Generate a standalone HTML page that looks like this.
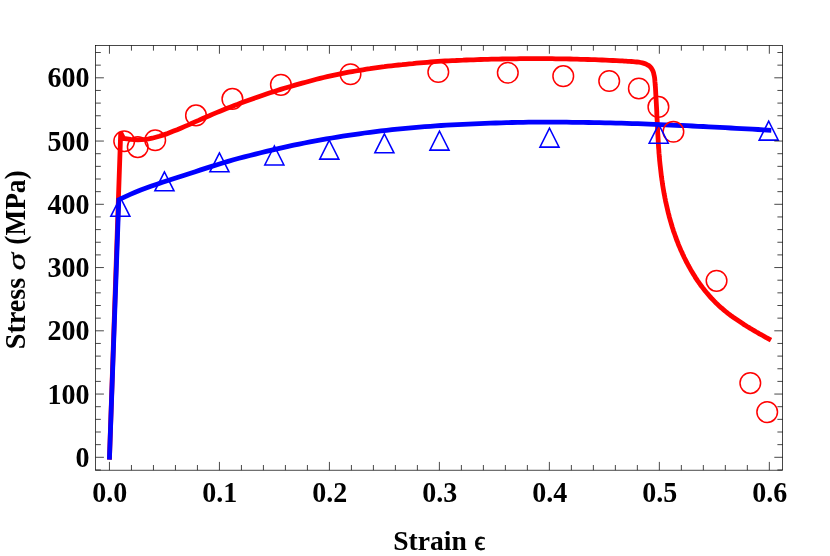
<!DOCTYPE html>
<html><head><meta charset="utf-8"><title>Stress-strain</title>
<style>
html,body{margin:0;padding:0;background:#fff;}
body{width:830px;height:556px;overflow:hidden;}
svg{display:block;will-change:transform;opacity:0.999;}
text{font-family:"Liberation Serif",serif;font-weight:bold;font-size:28px;fill:#000;}
</style></head><body>
<svg width="830" height="556" viewBox="0 0 830 556">
<rect width="830" height="556" fill="#fff"/>
<path d="M109.5 457.3 L120.7 132.5 L122.8 137.0 L123.6 138.5 L127.2 138.9 L130.7 139.3 L134.3 139.6 L137.9 139.8 L141.5 139.7 L145.0 139.3 L148.6 138.8 L152.2 138.2 L155.7 137.3 L159.3 136.3 L162.9 135.1 L166.5 133.9 L170.0 132.5 L173.6 131.1 L177.2 129.7 L180.7 128.2 L184.3 126.6 L187.9 125.1 L191.5 123.5 L195.0 121.9 L198.6 120.4 L202.2 118.8 L205.7 117.2 L209.3 115.7 L212.9 114.1 L216.5 112.6 L220.0 111.2 L223.6 109.7 L227.2 108.3 L230.7 106.9 L234.3 105.5 L237.9 104.2 L241.5 102.8 L245.0 101.5 L248.6 100.2 L252.2 98.9 L255.7 97.7 L259.3 96.4 L262.9 95.2 L266.4 94.0 L270.0 92.8 L273.6 91.7 L277.2 90.5 L280.7 89.4 L284.3 88.3 L287.9 87.2 L291.4 86.2 L295.0 85.1 L298.6 84.1 L302.2 83.1 L305.7 82.2 L309.3 81.2 L312.9 80.2 L316.4 79.3 L320.0 78.4 L323.6 77.5 L327.2 76.7 L330.7 75.9 L334.3 75.1 L337.9 74.3 L341.4 73.6 L345.0 72.9 L348.6 72.2 L352.2 71.6 L355.7 71.0 L359.3 70.4 L362.9 69.8 L366.4 69.2 L370.0 68.7 L373.6 68.1 L377.2 67.6 L380.7 67.1 L384.3 66.7 L387.9 66.2 L391.4 65.8 L395.0 65.4 L398.6 65.0 L402.2 64.7 L405.7 64.3 L409.3 63.9 L412.9 63.6 L416.4 63.2 L420.0 62.9 L423.6 62.6 L427.2 62.3 L430.7 62.0 L434.3 61.7 L437.9 61.4 L441.4 61.2 L445.0 61.0 L448.6 60.8 L452.2 60.6 L455.7 60.5 L459.3 60.3 L462.9 60.2 L466.4 60.0 L470.0 59.9 L473.6 59.8 L477.2 59.6 L480.7 59.5 L484.3 59.4 L487.9 59.3 L491.4 59.2 L495.0 59.2 L498.6 59.1 L502.1 59.0 L505.7 58.9 L509.3 58.9 L512.9 58.8 L516.4 58.8 L520.0 58.7 L523.6 58.7 L527.1 58.7 L530.7 58.7 L534.3 58.7 L537.9 58.7 L541.4 58.7 L545.0 58.7 L548.6 58.7 L552.1 58.7 L555.7 58.8 L559.3 58.8 L562.9 58.9 L566.4 58.9 L570.0 59.0 L573.6 59.1 L577.1 59.2 L580.7 59.3 L584.3 59.4 L587.9 59.5 L591.4 59.6 L595.0 59.7 L598.6 59.9 L602.1 60.0 L605.7 60.2 L609.3 60.4 L612.9 60.5 L616.4 60.7 L620.0 60.9 L620.8 60.8 L622.5 60.9 L624.2 61.1 L626.0 61.2 L627.8 61.3 L629.6 61.4 L631.4 61.5 L633.2 61.6 L635.1 61.8 L636.9 62.0 L638.8 62.2 L640.6 62.5 L642.4 62.9 L644.1 63.4 L645.8 64.0 L647.3 64.8 L648.8 65.6 L650.1 66.7 L651.2 68.0 L652.1 69.4 L652.9 71.0 L653.5 72.6 L653.9 74.4 L654.3 76.1 L654.6 77.9 L654.8 79.7 L654.9 81.5 L655.1 83.3 L655.2 85.1 L655.4 86.9 L655.5 88.7 L655.6 90.5 L655.7 92.3 L655.8 94.1 L655.9 96.0 L656.0 97.8 L656.1 99.6 L656.2 101.4 L656.3 103.1 L656.4 104.9 L656.5 106.7 L656.6 108.5 L656.7 110.3 L656.8 112.1 L656.8 113.9 L656.9 115.7 L657.0 117.5 L657.1 119.3 L657.2 121.1 L657.3 122.9 L657.3 124.7 L657.4 126.4 L657.5 128.2 L657.6 130.0 L657.7 131.8 L657.8 133.6 L657.9 135.4 L658.0 137.2 L658.1 138.9 L658.2 140.7 L658.3 142.5 L658.4 144.3 L658.5 146.1 L658.6 147.9 L658.8 149.6 L658.9 151.4 L659.0 153.2 L659.2 155.0 L659.3 156.8 L659.5 158.6 L659.6 160.3 L659.8 162.1 L660.0 163.9 L660.2 165.7 L660.4 167.5 L660.6 169.3 L660.8 171.0 L661.0 172.8 L661.2 174.6 L661.4 176.4 L661.7 178.2 L661.9 179.9 L662.2 181.7 L662.4 183.5 L662.7 185.3 L663.0 187.1 L663.3 188.8 L663.6 190.6 L663.9 192.4 L664.2 194.1 L664.6 195.9 L664.9 197.7 L665.3 199.4 L665.6 201.2 L666.0 203.0 L666.4 204.7 L666.8 206.5 L667.2 208.2 L667.6 210.0 L668.0 211.7 L668.4 213.4 L668.9 215.2 L669.3 216.9 L669.8 218.6 L670.3 220.4 L670.8 222.1 L671.3 223.8 L671.8 225.5 L672.3 227.2 L672.9 228.9 L673.4 230.7 L674.0 232.4 L674.6 234.0 L675.2 235.7 L675.8 237.4 L676.4 239.1 L677.0 240.8 L677.7 242.4 L678.3 244.1 L679.0 245.8 L679.7 247.4 L680.4 249.1 L681.1 250.7 L681.9 252.3 L682.6 254.0 L683.4 255.6 L684.1 257.2 L684.9 258.8 L685.7 260.4 L686.5 262.0 L687.4 263.6 L688.2 265.2 L689.1 266.8 L690.0 268.3 L690.8 269.9 L691.8 271.5 L692.7 273.0 L693.6 274.5 L694.6 276.1 L695.5 277.6 L696.5 279.1 L697.5 280.6 L698.6 282.1 L699.6 283.5 L700.6 285.0 L701.7 286.4 L702.8 287.9 L703.9 289.3 L705.0 290.7 L706.1 292.1 L707.3 293.5 L708.5 294.8 L709.6 296.2 L710.8 297.5 L712.0 298.8 L713.3 300.1 L714.5 301.4 L715.8 302.7 L717.1 303.9 L718.4 305.2 L719.7 306.4 L721.0 307.6 L722.4 308.7 L723.7 309.9 L725.1 311.0 L726.5 312.2 L727.9 313.3 L729.3 314.4 L730.7 315.5 L732.2 316.5 L733.6 317.6 L735.1 318.6 L736.6 319.6 L738.1 320.6 L739.6 321.6 L741.1 322.6 L742.6 323.6 L744.1 324.6 L745.6 325.5 L747.1 326.5 L748.7 327.4 L750.2 328.3 L751.8 329.2 L753.3 330.2 L754.9 331.1 L756.4 332.0 L758.0 332.9 L759.5 333.8 L761.1 334.6 L762.7 335.5 L764.2 336.4 L765.8 337.3 L767.3 338.1 L768.9 339.0" fill="none" stroke="#f00" stroke-width="4.8" stroke-linecap="square" stroke-linejoin="miter" stroke-miterlimit="2"/>
<path d="M109.5 457.3 L118.8 199.7 L124.3 197.1 L129.7 194.6 L135.2 192.3 L140.7 190.1 L146.1 188.1 L151.6 186.1 L157.0 184.2 L162.5 182.3 L168.0 180.5 L173.4 178.8 L178.9 177.0 L184.4 175.2 L189.8 173.5 L195.3 171.7 L200.7 169.9 L206.2 168.1 L211.7 166.4 L217.1 164.7 L222.6 163.0 L228.1 161.4 L233.5 159.8 L239.0 158.3 L244.4 156.9 L249.9 155.5 L255.4 154.1 L260.8 152.7 L266.3 151.4 L271.8 150.1 L277.2 148.8 L282.7 147.6 L288.2 146.3 L293.6 145.2 L299.1 144.1 L304.5 143.0 L310.0 141.9 L315.5 140.9 L320.9 139.9 L326.4 138.9 L331.9 138.0 L337.3 137.1 L342.8 136.2 L348.2 135.4 L353.7 134.6 L359.2 133.8 L364.6 133.0 L370.1 132.3 L375.6 131.6 L381.0 130.9 L386.5 130.3 L392.0 129.7 L397.4 129.1 L402.9 128.6 L408.3 128.1 L413.8 127.6 L419.3 127.1 L424.7 126.7 L430.2 126.3 L435.7 125.9 L441.1 125.5 L446.6 125.2 L452.0 124.9 L457.5 124.6 L463.0 124.3 L468.4 124.1 L473.9 123.8 L479.4 123.6 L484.8 123.4 L490.3 123.2 L495.7 123.0 L501.2 122.8 L506.7 122.6 L512.1 122.5 L517.6 122.4 L523.1 122.3 L528.5 122.2 L534.0 122.2 L539.5 122.2 L544.9 122.1 L550.4 122.1 L555.8 122.1 L561.3 122.2 L566.8 122.2 L572.2 122.3 L577.7 122.3 L583.2 122.4 L588.6 122.5 L594.1 122.6 L599.5 122.7 L605.0 122.8 L610.5 122.9 L615.9 123.1 L621.4 123.2 L626.9 123.4 L632.3 123.6 L637.8 123.7 L643.3 123.9 L648.7 124.1 L654.2 124.3 L659.6 124.6 L665.1 124.8 L670.6 125.0 L676.0 125.3 L681.5 125.5 L687.0 125.7 L692.4 126.0 L697.9 126.3 L703.3 126.5 L708.8 126.8 L714.3 127.1 L719.7 127.4 L725.2 127.7 L730.7 128.0 L736.1 128.3 L741.6 128.6 L747.0 128.9 L752.5 129.2 L758.0 129.5 L763.4 129.9 L768.9 130.2" fill="none" stroke="#00f" stroke-width="4.8" stroke-linecap="square" stroke-linejoin="miter"/>
<g fill="none" stroke="#f00" stroke-width="1.5"><circle cx="124.20" cy="141.20" r="10.30"/><circle cx="137.75" cy="147.10" r="10.30"/><circle cx="155.20" cy="140.30" r="10.30"/><circle cx="196.00" cy="115.40" r="10.30"/><circle cx="232.40" cy="98.90" r="10.30"/><circle cx="280.90" cy="84.85" r="10.30"/><circle cx="350.50" cy="74.30" r="10.30"/><circle cx="438.30" cy="72.00" r="10.30"/><circle cx="507.80" cy="72.80" r="10.30"/><circle cx="563.25" cy="76.15" r="10.30"/><circle cx="609.20" cy="81.00" r="10.30"/><circle cx="638.85" cy="88.50" r="10.30"/><circle cx="658.40" cy="106.90" r="10.30"/><circle cx="673.40" cy="131.70" r="10.30"/><circle cx="716.55" cy="280.85" r="10.30"/><circle cx="750.30" cy="383.10" r="10.30"/><circle cx="767.20" cy="412.10" r="10.30"/></g>
<path d="M120.35 197.42L110.80 216.32L129.90 216.32ZM164.45 171.92L154.90 190.82L174.00 190.82ZM219.45 152.92L209.90 171.82L229.00 171.82ZM274.35 146.02L264.80 164.92L283.90 164.92ZM329.30 140.22L319.75 159.12L338.85 159.12ZM384.40 133.92L374.85 152.82L393.95 152.82ZM439.50 131.22L429.95 150.12L449.05 150.12ZM549.50 128.22L539.95 147.12L559.05 147.12ZM658.70 124.32L649.15 143.22L668.25 143.22ZM768.70 121.22L759.15 140.12L778.25 140.12Z" fill="none" stroke="#00f" stroke-width="1.55" stroke-linejoin="miter" stroke-miterlimit="10"/>
<path d="M109.45 470.20v-8.30M109.45 45.45v8.30M131.45 470.20v-5.20M131.45 45.45v5.20M153.44 470.20v-5.20M153.44 45.45v5.20M175.44 470.20v-5.20M175.44 45.45v5.20M197.43 470.20v-5.20M197.43 45.45v5.20M219.43 470.20v-8.30M219.43 45.45v8.30M241.43 470.20v-5.20M241.43 45.45v5.20M263.42 470.20v-5.20M263.42 45.45v5.20M285.42 470.20v-5.20M285.42 45.45v5.20M307.41 470.20v-5.20M307.41 45.45v5.20M329.41 470.20v-8.30M329.41 45.45v8.30M351.41 470.20v-5.20M351.41 45.45v5.20M373.40 470.20v-5.20M373.40 45.45v5.20M395.40 470.20v-5.20M395.40 45.45v5.20M417.39 470.20v-5.20M417.39 45.45v5.20M439.39 470.20v-8.30M439.39 45.45v8.30M461.39 470.20v-5.20M461.39 45.45v5.20M483.38 470.20v-5.20M483.38 45.45v5.20M505.38 470.20v-5.20M505.38 45.45v5.20M527.37 470.20v-5.20M527.37 45.45v5.20M549.37 470.20v-8.30M549.37 45.45v8.30M571.37 470.20v-5.20M571.37 45.45v5.20M593.36 470.20v-5.20M593.36 45.45v5.20M615.36 470.20v-5.20M615.36 45.45v5.20M637.35 470.20v-5.20M637.35 45.45v5.20M659.35 470.20v-8.30M659.35 45.45v8.30M681.35 470.20v-5.20M681.35 45.45v5.20M703.34 470.20v-5.20M703.34 45.45v5.20M725.34 470.20v-5.20M725.34 45.45v5.20M747.33 470.20v-5.20M747.33 45.45v5.20M769.33 470.20v-8.30M769.33 45.45v8.30M95.60 469.95h5.20M782.60 469.95h-5.20M95.60 457.30h8.30M782.60 457.30h-8.30M95.60 444.65h5.20M782.60 444.65h-5.20M95.60 432.00h5.20M782.60 432.00h-5.20M95.60 419.35h5.20M782.60 419.35h-5.20M95.60 406.70h5.20M782.60 406.70h-5.20M95.60 394.05h8.30M782.60 394.05h-8.30M95.60 381.40h5.20M782.60 381.40h-5.20M95.60 368.75h5.20M782.60 368.75h-5.20M95.60 356.10h5.20M782.60 356.10h-5.20M95.60 343.45h5.20M782.60 343.45h-5.20M95.60 330.80h8.30M782.60 330.80h-8.30M95.60 318.15h5.20M782.60 318.15h-5.20M95.60 305.50h5.20M782.60 305.50h-5.20M95.60 292.85h5.20M782.60 292.85h-5.20M95.60 280.20h5.20M782.60 280.20h-5.20M95.60 267.55h8.30M782.60 267.55h-8.30M95.60 254.90h5.20M782.60 254.90h-5.20M95.60 242.25h5.20M782.60 242.25h-5.20M95.60 229.60h5.20M782.60 229.60h-5.20M95.60 216.95h5.20M782.60 216.95h-5.20M95.60 204.30h8.30M782.60 204.30h-8.30M95.60 191.65h5.20M782.60 191.65h-5.20M95.60 179.00h5.20M782.60 179.00h-5.20M95.60 166.35h5.20M782.60 166.35h-5.20M95.60 153.70h5.20M782.60 153.70h-5.20M95.60 141.05h8.30M782.60 141.05h-8.30M95.60 128.40h5.20M782.60 128.40h-5.20M95.60 115.75h5.20M782.60 115.75h-5.20M95.60 103.10h5.20M782.60 103.10h-5.20M95.60 90.45h5.20M782.60 90.45h-5.20M95.60 77.80h8.30M782.60 77.80h-8.30M95.60 65.15h5.20M782.60 65.15h-5.20M95.60 52.50h5.20M782.60 52.50h-5.20" fill="none" stroke="#000" stroke-width="0.72"/>
<rect x="95.6" y="45.45" width="687.00" height="424.75" fill="none" stroke="#000" stroke-width="0.72"/>
<g><text transform="translate(109.80 502.35) scale(1 1.04)" text-anchor="middle">0.0</text><text transform="translate(219.78 502.35) scale(1 1.04)" text-anchor="middle">0.1</text><text transform="translate(329.76 502.35) scale(1 1.04)" text-anchor="middle">0.2</text><text transform="translate(439.74 502.35) scale(1 1.04)" text-anchor="middle">0.3</text><text transform="translate(549.72 502.35) scale(1 1.04)" text-anchor="middle">0.4</text><text transform="translate(659.70 502.35) scale(1 1.04)" text-anchor="middle">0.5</text><text transform="translate(769.68 502.35) scale(1 1.04)" text-anchor="middle">0.6</text></g>
<g><text transform="translate(89.45 466.95) scale(1 1.04)" text-anchor="end">0</text><text transform="translate(89.45 403.70) scale(1 1.04)" text-anchor="end">100</text><text transform="translate(89.45 340.45) scale(1 1.04)" text-anchor="end">200</text><text transform="translate(89.45 277.20) scale(1 1.04)" text-anchor="end">300</text><text transform="translate(89.45 213.95) scale(1 1.04)" text-anchor="end">400</text><text transform="translate(89.45 150.70) scale(1 1.04)" text-anchor="end">500</text><text transform="translate(89.45 87.45) scale(1 1.04)" text-anchor="end">600</text></g>
<text transform="translate(393.2 550.0) scale(0.985 1.0)">Strain</text>
<text transform="translate(474.6 550.0) scale(0.93 0.94)" style="font-weight:normal" stroke="#000" stroke-width="0.85">&#x3F5;</text>
<text transform="translate(24.8 349.3) rotate(-90) scale(1.008 1.02)">Stress</text>
<text transform="translate(24.8 270.3) rotate(-90) scale(1.25 0.87)" style="font-style:italic;font-weight:normal" stroke="#000" stroke-width="0.35">&#x3C3;</text>
<text transform="translate(24.8 244.7) rotate(-90) scale(0.976 1.02)">(MPa)</text>
</svg>
</body></html>
